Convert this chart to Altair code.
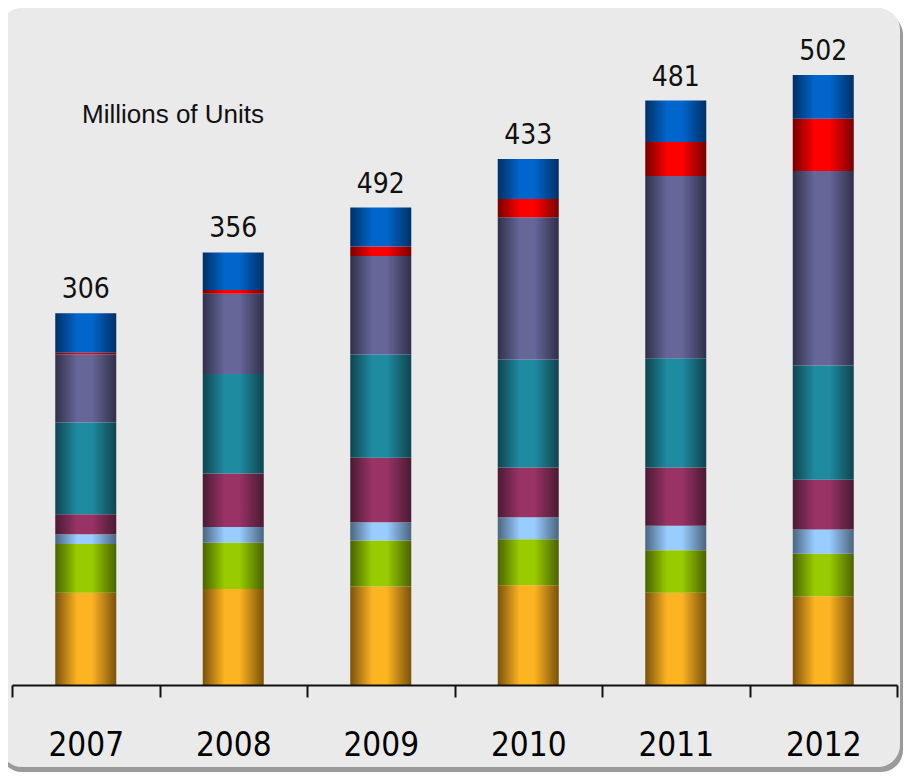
import altair as alt
import pandas as pd

# ---- data (millions of units) ----
years = ["2007", "2008", "2009", "2010", "2011", "2012"]
total_labels = ["306", "356", "492", "433", "481", "502"]

series = ["Orange", "Green", "Light blue", "Maroon", "Teal", "Purple", "Red", "Blue"]
orange = [76, 79, 81, 82, 76, 73]
green = [40, 38, 38, 38, 35, 35]
light_blue = [8, 13, 15, 18, 20, 20]
maroon = [16.5, 44, 53, 41, 48, 41]
teal = [75.5, 82, 85, 89, 90, 94]
purple = [56, 66, 81, 117, 150, 160]
red = [1.5, 3, 8, 15, 28, 43]
blue = [32.5, 31, 32, 33, 34, 36]
series_values = [orange, green, light_blue, maroon, teal, purple, red, blue]

center_colors = ["#FDB422", "#99CC00", "#99CCFF", "#993366", "#1F8BA1", "#666699", "#FF0000", "#0066CC"]
edge_colors = ["#7A520C", "#4A6300", "#4A6580", "#4A1A33", "#0F444F", "#30304A", "#780000", "#003066"]

note_text = "Millions of Units"

rows = []
for i, (name, vals) in enumerate(zip(series, series_values)):
    for j, yr in enumerate(years):
        rows.append({"year": yr, "series": name, "order": i, "value": vals[j], "label": total_labels[j]})
df = pd.DataFrame(rows)

W, H = 885, 677
yscale = alt.Scale(domain=[0, 557.2], nice=False)
cond_font = "Liberation Sans Narrow, DejaVu Sans Condensed, Arial Narrow, sans-serif"

x_enc = alt.X(
    "year:N",
    sort=years,
    scale=alt.Scale(domain=years, paddingInner=0, paddingOuter=0),
    axis=alt.Axis(
        title=None,
        domainColor="#111111",
        domainWidth=2,
        tickColor="#111111",
        tickWidth=2,
        tickSize=12,
        tickBand="extent",
        labelFont=cond_font,
        labelFontSize=33,
        labelColor="#000000",
        labelPadding=58,
        labelBaseline="alphabetic",
        labelAngle=0,
        zindex=1,
    ),
)


def gradient(i):
    return alt.LinearGradient(
        gradient="linear",
        stops=[
            alt.GradientStop(color=edge_colors[i], offset=0),
            alt.GradientStop(color=center_colors[i], offset=0.36),
            alt.GradientStop(color=center_colors[i], offset=0.6),
            alt.GradientStop(color=edge_colors[i], offset=1),
        ],
        x1=0, x2=1, y1=0, y2=0,
    )


dummy = alt.Data(values=[{"k": 0}])

shadow = alt.Chart(dummy).mark_rect(fill="#9a9a9a", cornerRadius=22).encode(
    x=alt.value(-12), x2=alt.value(891), y=alt.value(5), y2=alt.value(764)
)
box = alt.Chart(dummy).mark_rect(fill="#EAEAEA", cornerRadius=22).encode(
    x=alt.value(-12), x2=alt.value(888), y=alt.value(0), y2=alt.value(759)
)

base = alt.Chart(df).transform_stack(
    stack="value",
    groupby=["year"],
    as_=["y0", "y1"],
    sort=[alt.SortField("order", order="ascending")],
)

bars = []
for i, name in enumerate(series):
    bars.append(
        base.transform_filter(alt.datum.series == name)
        .mark_bar(size=61, color=gradient(i), strokeWidth=0)
        .encode(
            x=x_enc,
            y=alt.Y("y0:Q", scale=yscale, axis=None),
            y2="y1:Q",
        )
    )

totals = (
    alt.Chart(df)
    .transform_aggregate(total="sum(value)", groupby=["year", "label"])
    .mark_text(dy=-15, baseline="alphabetic", fontSize=28, font=cond_font, color="#111111")
    .encode(x=x_enc, y=alt.Y("total:Q", scale=yscale, axis=None), text="label:N")
)

note = alt.Chart(dummy).mark_text(
    text=note_text, font="Liberation Sans, Arial, sans-serif", fontSize=26,
    color="#111111", align="center", baseline="alphabetic"
).encode(x=alt.value(161), y=alt.value(115))

chart = (
    alt.layer(shadow, box, *bars, totals, note)
    .properties(
        width=W,
        height=H,
        padding={"left": 4, "top": 0, "right": 6, "bottom": 87},
        autosize="none",
        background="white",
    )
    .configure_view(strokeWidth=0, stroke="transparent")
)

chart.save("out.html", embed_options={"renderer": "svg", "actions": False})
